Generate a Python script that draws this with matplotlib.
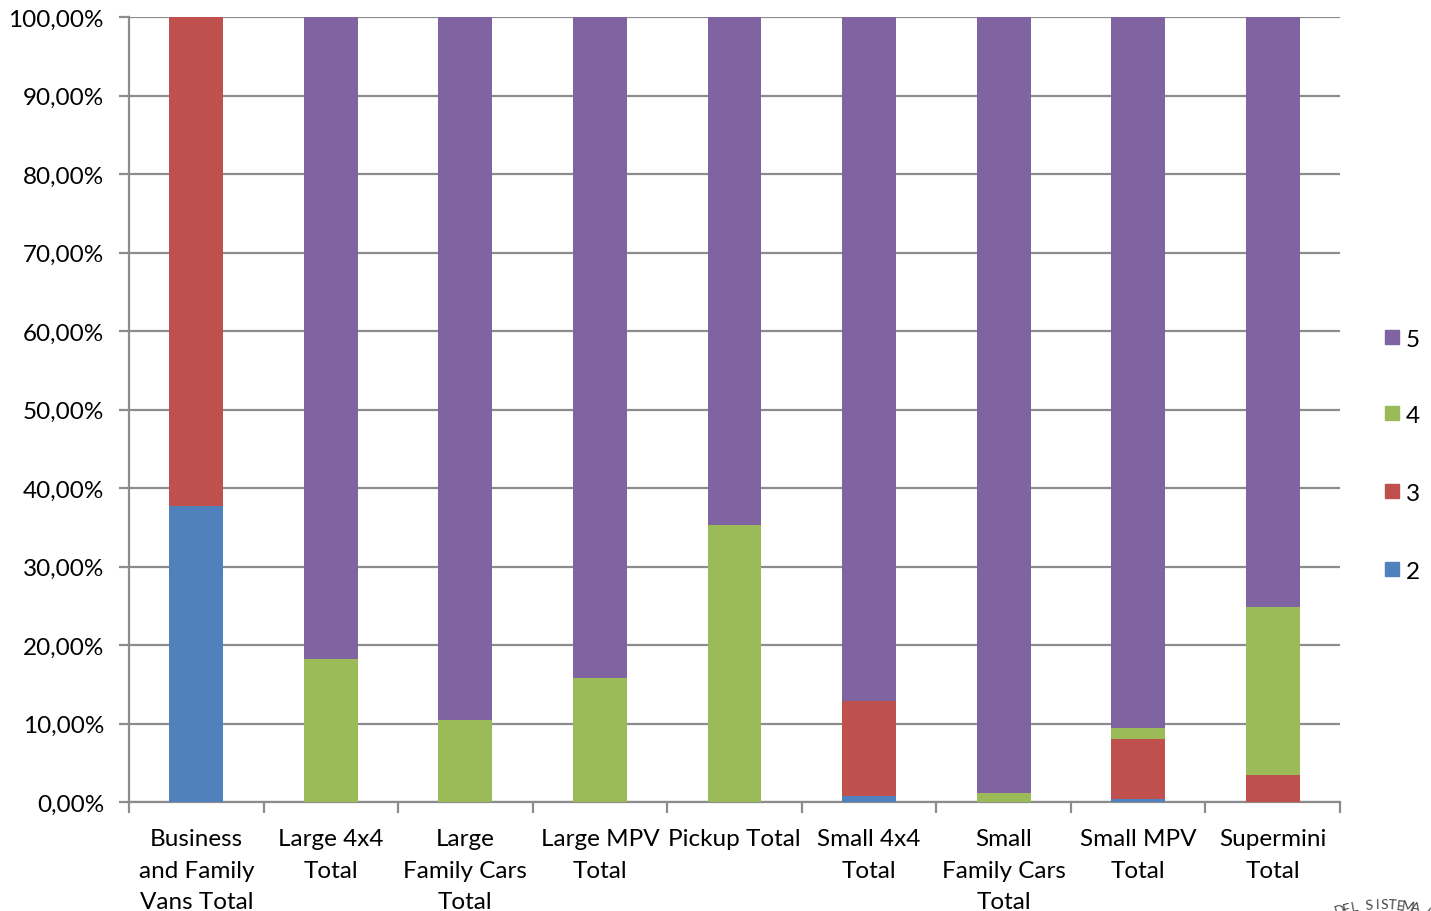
import matplotlib
matplotlib.use("Agg")
import matplotlib.pyplot as plt
import numpy as np
from matplotlib.ticker import FuncFormatter, MultipleLocator
from matplotlib.patches import Rectangle

plt.rcParams['font.family'] = ['Lato', 'DejaVu Sans']

categories = ["Business\nand Family\nVans Total", "Large 4x4\nTotal", "Large\nFamily Cars\nTotal",
              "Large MPV\nTotal", "Pickup Total", "Small 4x4\nTotal", "Small\nFamily Cars\nTotal",
              "Small MPV\nTotal", "Supermini\nTotal"]

# shares (%) per rating level
s2 = [37.7, 0.0, 0.0, 0.0, 0.0, 0.8, 0.0, 0.35, 0.0]
s3 = [62.3, 0.0, 0.0, 0.0, 0.0, 12.1, 0.0, 7.65, 3.5]
s4 = [0.0, 18.2, 10.4, 15.8, 35.3, 0.0, 1.15, 1.4, 21.4]
s5 = [0.0, 81.8, 89.6, 84.2, 64.7, 87.1, 98.85, 90.6, 75.1]

series = [("2", s2, "#4F81BD"), ("3", s3, "#C0504D"), ("4", s4, "#9BBB59"), ("5", s5, "#8064A2")]

W, H = 1431, 912
fig = plt.figure(figsize=(W / 100, H / 100), dpi=100)
ax = fig.add_axes([129 / W, 109 / H, (1340 - 129) / W, (803 - 18) / H])

x = np.arange(len(categories))
bottom = np.zeros(len(categories))
colors = {}
for name, vals, col in series:
    vals = np.array(vals)
    ax.bar(x, vals, 0.40, bottom=bottom, color=col, zorder=3, linewidth=0)
    colors[name] = col
    bottom += vals

ax.set_xlim(-0.5, len(categories) - 0.5)
ax.set_ylim(0, 100)
ax.yaxis.set_major_locator(MultipleLocator(10))
ax.yaxis.set_major_formatter(FuncFormatter(lambda v, p: f"{v:.2f}".replace(".", ",") + "%"))
ax.grid(axis='y', color='#8C8C8C', linewidth=1.6, zorder=0)
ax.set_axisbelow(True)

for sp in ['top', 'right']:
    ax.spines[sp].set_visible(False)
for sp in ['left', 'bottom']:
    ax.spines[sp].set_color('#8C8C8C')
    ax.spines[sp].set_linewidth(1.6)

ax.set_xticks(x)
ax.set_xticklabels(categories, fontsize=17.5, linespacing=1.6, va='top')
ax.set_xticks(np.arange(-0.5, len(categories)), minor=True)
ax.tick_params(axis='x', which='major', length=0, pad=19)
ax.tick_params(axis='x', which='minor', length=8, width=1.6, color='#8C8C8C')
ax.tick_params(axis='y', length=7, width=1.6, color='#8C8C8C', labelsize=17.5, pad=11)

# legend, top to bottom: 5, 4, 3, 2
leg_names = ["5", "4", "3", "2"]
leg_y = [338, 414, 492, 570]
for name, yy in zip(leg_names, leg_y):
    fig.patches.append(Rectangle((1385 / W, 1 - (yy + 7) / H), 14 / W, 14 / H,
                                 transform=fig.transFigure, color=colors[name]))
    fig.text(1406 / W, 1 - (yy + 3) / H, name, fontsize=17.5, va='center', ha='left')

# seal text fragment in the lower right corner
cx, cy, r = 1382, 1060, 155
word = "DEL SISTEMA A"
angs = np.linspace(106, 72, len(word))
for ch, a in zip(word, angs):
    px = cx + r * np.cos(np.radians(a))
    py = cy - r * np.sin(np.radians(a))
    fig.text(px / W, 1 - py / H, ch, fontsize=10, color='#444444',
             rotation=a - 90, ha='center', va='center')

fig.savefig("out.png", dpi=100)
